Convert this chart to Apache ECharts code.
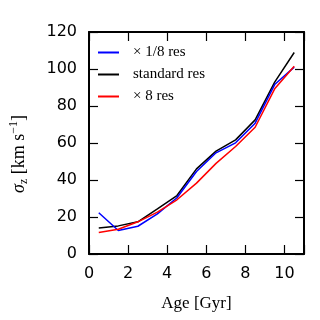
<!DOCTYPE html>
<html>
<head>
<meta charset="utf-8">
<script src="https://cdn.jsdelivr.net/npm/echarts@6/dist/echarts.min.js"></script>
<style>
  html, body { margin: 0; padding: 0; background: #fff; }
  #chart { width: 320px; height: 320px; }
</style>
</head>
<body>
<div id="chart"></div>
<script>
// age bins (Gyr)
var ages = [0.5, 1.5, 2.5, 3.5, 4.5, 5.5, 6.5, 7.5, 8.5, 9.5, 10.5];
// sigma_z per run
var lowRes = [22.3, 12.7, 15.0, 21.7, 30.4, 44.6, 54.7, 60.1, 70.7, 91.6, 101.0];
var stdRes = [14.0, 15.2, 17.4, 24.4, 31.6, 46.0, 55.6, 61.7, 72.5, 92.9, 108.9];
var highRes = [11.6, 13.4, 17.4, 22.6, 29.3, 38.3, 49.0, 58.1, 68.5, 89.3, 101.5];
var names = ['\u00d7 1/8 res', 'standard res', '\u00d7 8 res'];

function pairs(ys) {
    return ages.map(function (a, i) { return [a, ys[i]]; });
}

var chart = echarts.init(document.getElementById('chart'));

var serif = 'Liberation Serif';
var sans = 'DejaVu Sans';

// frame + inner ticks, mirrored on top/right
function xAx(pos, labels) {
    return {
        type: 'value', position: pos, min: 0, max: 11, interval: 2,
        axisLine: { show: true, onZero: false, lineStyle: { color: '#000', width: 2 } },
        axisTick: { show: true, inside: true, length: 9, lineStyle: { color: '#000', width: 1.2 } },
        axisLabel: { show: labels, margin: 12, fontFamily: sans, fontSize: 16, color: '#000',
            formatter: function (v) { return v > 10.5 ? '' : v; } },
        splitLine: { show: false }
    };
}
function yAx(pos, labels) {
    return {
        type: 'value', position: pos, min: 0, max: 120, interval: 20,
        axisLine: { show: true, onZero: false, lineStyle: { color: '#000', width: 2 } },
        axisTick: { show: true, inside: true, length: 9, lineStyle: { color: '#000', width: 1.2 } },
        axisLabel: { show: labels, margin: 12, fontFamily: sans, fontSize: 16, color: '#000' },
        splitLine: { show: false }
    };
}

var xa = xAx('bottom', true);
xa.name = 'Age [Gyr]';
xa.nameLocation = 'middle';
xa.nameGap = 41;
xa.nameTextStyle = { fontFamily: serif, fontSize: 17, color: '#000' };

var ya = yAx('left', true);
ya.name = '{s|\u03c3}{sub|z} [km s{sup|\u22121}]';
ya.nameLocation = 'middle';
ya.nameGap = 59;
ya.nameTextStyle = {
    fontFamily: serif, fontSize: 18, color: '#000', lineHeight: 22,
    padding: [0, 22, 0, 0],
    rich: {
        s: { fontFamily: serif, fontStyle: 'italic', fontSize: 18, color: '#000' },
        sub: { fontFamily: serif, fontSize: 12, color: '#000', verticalAlign: 'bottom', lineHeight: 22 },
        sup: { fontFamily: serif, fontSize: 12, color: '#000', verticalAlign: 'top', lineHeight: 22 }
    }
};

var option = {
    animation: false,
    backgroundColor: '#fff',
    grid: { left: 82, top: 32, width: 222, height: 222 },
    legend: {
        orient: 'vertical', left: 93, top: 40,
        icon: 'rect', itemWidth: 21, itemHeight: 2, itemGap: 7,
        data: names,
        textStyle: { fontFamily: serif, fontSize: 15, color: '#000', lineHeight: 14, padding: [0, 0, 0, 9] }
    },
    xAxis: [xa, xAx('top', false)],
    yAxis: [ya, yAx('right', false)],
    series: [
        { name: names[0], type: 'line', data: pairs(lowRes), symbol: 'none',
          lineStyle: { color: '#0000ff', width: 1.5 }, itemStyle: { color: '#0000ff' }, z: 3 },
        { name: names[1], type: 'line', data: pairs(stdRes), symbol: 'none',
          lineStyle: { color: '#000000', width: 1.5 }, itemStyle: { color: '#000000' }, z: 2 },
        { name: names[2], type: 'line', data: pairs(highRes), symbol: 'none',
          lineStyle: { color: '#ff0000', width: 1.5 }, itemStyle: { color: '#ff0000' }, z: 4 }
    ]
};

chart.setOption(option);
</script>
</body>
</html>
